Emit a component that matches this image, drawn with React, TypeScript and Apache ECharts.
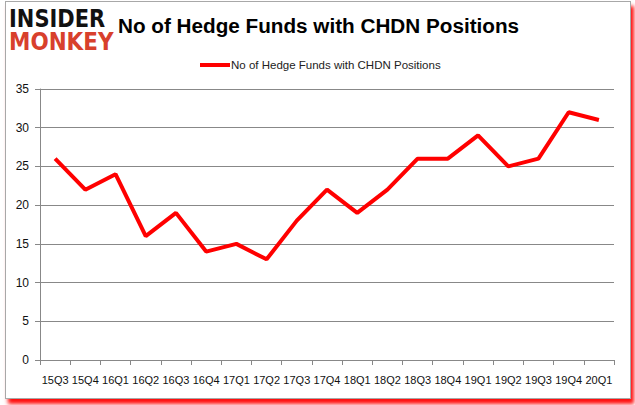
import React, { useEffect, useRef } from "react";
import * as echarts from "echarts";

const categories = ["15Q3","15Q4","16Q1","16Q2","16Q3","16Q4","17Q1","17Q2","17Q3","17Q4","18Q1","18Q2","18Q3","18Q4","19Q1","19Q2","19Q3","19Q4","20Q1"];
const hedgeFunds = [26,22,24,16,19,14,15,13,18,22,19,22,26,26,29,25,26,32,31];
const seriesName = "No of Hedge Funds with CHDN Positions";
const titleText = "No of Hedge Funds with CHDN Positions";

export default function App() {
  const ref = useRef<HTMLDivElement>(null);
  useEffect(() => {
    if (!ref.current) return;
    const chart = echarts.init(ref.current, undefined, { renderer: "svg" });
    chart.setOption({
      animation: false,
      grid: { left: 40, right: 21, top: 89, bottom: 45 },
      legend: {
        data: [seriesName],
        top: 54,
        left: 195,
        itemWidth: 30,
        itemHeight: 4,
        itemGap: 2,
        icon: "rect",
        textStyle: { fontFamily: "Liberation Sans", fontSize: 11.5, color: "#222", padding: [0, 0, 0, -4] },
      },
      graphic: [
        { type: "text", left: 9, top: 6, scaleX: 0.84, style: { text: "INSIDER", fontFamily: "DejaVu Sans", fontWeight: "bold", fontSize: 25, fill: "#111" } },
        { type: "text", left: 9, top: 28, scaleX: 0.86, style: { text: "MONKEY", fontFamily: "DejaVu Sans", fontWeight: "bold", fontSize: 25, fill: "#d8402c" } },
        { type: "text", left: 118, top: 15, style: { text: titleText, fontFamily: "Liberation Sans", fontWeight: "bold", fontSize: 20.7, fill: "#000" } },
      ],
      xAxis: {
        type: "category",
        data: categories,
        boundaryGap: true,
        axisLine: { lineStyle: { color: "#888" } },
        axisTick: { show: true, length: 5, lineStyle: { color: "#888" } },
        axisLabel: { interval: 0, margin: 14, fontFamily: "Liberation Sans", fontSize: 11, color: "#111" },
      },
      yAxis: {
        type: "value",
        min: 0,
        max: 35,
        interval: 5,
        axisLine: { show: true, lineStyle: { color: "#888" } },
        axisTick: { show: true, length: 5, lineStyle: { color: "#888" } },
        splitLine: { lineStyle: { color: "#888" } },
        axisLabel: { margin: 11, fontFamily: "Liberation Sans", fontSize: 12, color: "#111" },
      },
      series: [
        {
          name: seriesName,
          type: "line",
          data: hedgeFunds,
          symbol: "none",
          lineStyle: { color: "#ff0000", width: 4 },
          itemStyle: { color: "#ff0000" },
        },
      ],
    });
    return () => chart.dispose();
  }, []);
  return (
    <div style={{ position: "fixed", left: 0, top: 0, width: 635, height: 405, background: "#fff" }}>
      <div style={{ position: "absolute", left: 5, top: 1, width: 624, height: 396, border: "1px solid #a8a8a8", boxShadow: "3px 5px 4px rgba(255,0,0,0.95)", background: "#fff" }} />
      <div ref={ref} style={{ position: "absolute", left: 0, top: 0, width: 635, height: 405 }} />
    </div>
  );
}
